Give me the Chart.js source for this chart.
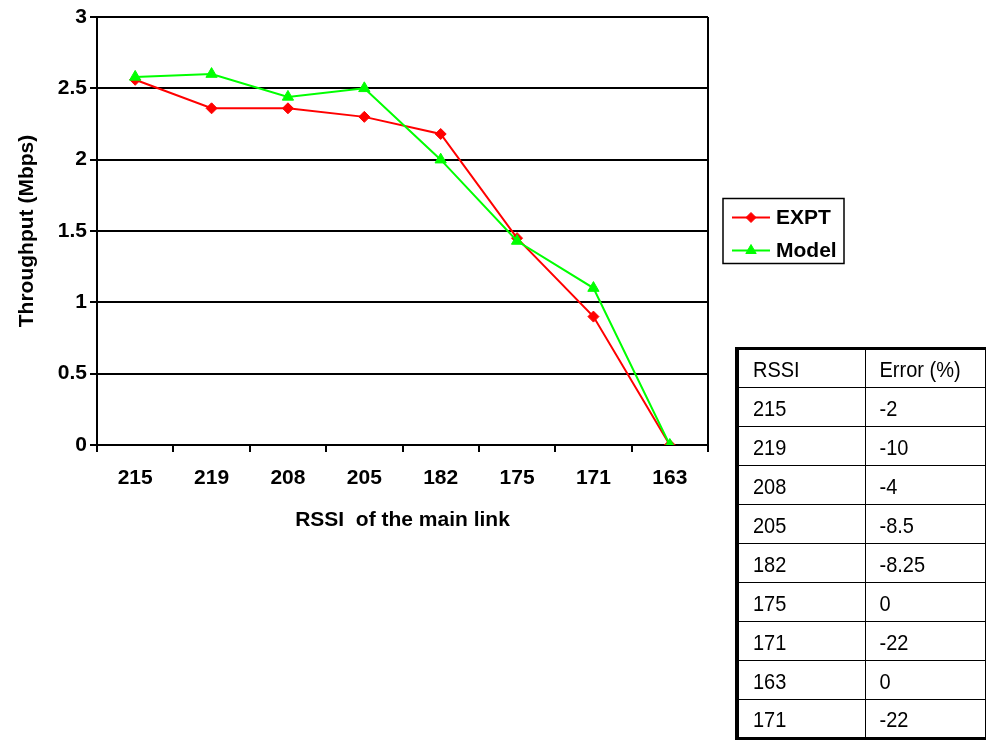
<!DOCTYPE html>
<html>
<head>
<meta charset="utf-8">
<script src="https://cdn.jsdelivr.net/npm/chart.js@4.4.1/dist/chart.umd.min.js"></script>
<style>
  html, body { margin: 0; padding: 0; background: #fff; }
  #wrap { position: relative; width: 987px; height: 740px; overflow: hidden; }
  #chart { position: absolute; left: 0; top: 0; }
  #errTable {
    position: absolute; left: 735px; top: 347px; width: 251px;
    border-collapse: collapse; table-layout: fixed;
    font-family: 'Liberation Sans', Arial, sans-serif; font-size: 20px; color: #000;
    border-left: 4px solid #000; border-top: 3px solid #000; border-bottom: 3px solid #000;
  }
  #errTable tr { height: 39px; }
  #errTable td { box-sizing: border-box; border: 1px solid #000; padding: 4px 0 0 14px; vertical-align: middle; white-space: nowrap; }
  #errTable td span { display: inline-block; transform: scaleY(1.08); transform-origin: 50% 60%; }
  #errTable col.c1 { width: 128px; }
</style>
</head>
<body>
<div id="wrap">
  <canvas id="chart" width="987" height="740"></canvas>
  <table id="errTable"><colgroup><col class="c1"><col></colgroup></table>
</div>
<script>
// RSSI of the main link (x categories)
const rssiLabels = ['215', '219', '208', '205', '182', '175', '171', '163'];
// Measured throughput (Mbps)
const exptValues = [2.56, 2.36, 2.36, 2.30, 2.18, 1.45, 0.90, 0];
// Model throughput (Mbps)
const modelValues = [2.58, 2.60, 2.44, 2.50, 2.00, 1.43, 1.10, 0];
// y-axis tick range
const yMin = 0, yMax = 3, yStep = 0.5;
// Error table
const tableHeader = ['RSSI', 'Error (%)'];
const tableRssi = ['215', '219', '208', '205', '182', '175', '171', '163', '171'];
const tableError = ['-2', '-10', '-4', '-8.5', '-8.25', '0', '-22', '0', '-22'];

// Build the error table
const tbl = document.getElementById('errTable');
function addRow(a, b) {
  const tr = document.createElement('tr');
  [a, b].forEach(t => {
    const td = document.createElement('td');
    const sp = document.createElement('span');
    sp.textContent = t;
    td.appendChild(sp);
    tr.appendChild(td);
  });
  tbl.appendChild(tr);
}
addRow(tableHeader[0], tableHeader[1]);
tableRssi.forEach((r, i) => addRow(r, tableError[i]));

const FONT = "'Liberation Sans', Arial, sans-serif";
Chart.defaults.font.family = FONT;
Chart.defaults.color = '#000';

// Right edge of the plot frame
const frameRight = {
  id: 'frameRight',
  beforeDatasetsDraw(chart) {
    const { ctx, chartArea } = chart;
    ctx.save();
    ctx.strokeStyle = '#000';
    ctx.lineWidth = 2;
    ctx.beginPath();
    ctx.moveTo(chartArea.right, chartArea.top);
    ctx.lineTo(chartArea.right, chartArea.bottom);
    ctx.stroke();
    ctx.restore();
  }
};

// Boxed legend beside the plot, vertically centred on it
const boxedLegend = {
  id: 'boxedLegend',
  afterDraw(chart) {
    const { ctx, chartArea } = chart;
    const w = 121, h = 65;
    const left = chartArea.right + 15;
    const top = (chartArea.top + chartArea.bottom) / 2 - h / 2;
    ctx.save();
    ctx.strokeStyle = '#000';
    ctx.lineWidth = 1.5;
    ctx.strokeRect(left, top, w, h);
    chart.data.datasets.forEach((ds, i) => {
      const y = top + 19 + i * 33;
      ctx.strokeStyle = ds.borderColor;
      ctx.fillStyle = ds.backgroundColor;
      ctx.lineWidth = 2;
      ctx.beginPath();
      ctx.moveTo(left + 9, y);
      ctx.lineTo(left + 47, y);
      ctx.stroke();
      ctx.lineWidth = 1;
      Chart.helpers.drawPoint(ctx, { pointStyle: ds.pointStyle, radius: ds.legendRadius, borderWidth: 1, rotation: 0 }, left + 28, y);
      ctx.fillStyle = '#000';
      ctx.font = 'bold 21px ' + FONT;
      ctx.textBaseline = 'middle';
      ctx.textAlign = 'left';
      ctx.fillText(ds.label, left + 53, y + 1);
    });
    ctx.restore();
  }
};

new Chart(document.getElementById('chart'), {
  type: 'line',
  data: {
    labels: rssiLabels,
    datasets: [
      {
        label: 'EXPT',
        data: exptValues,
        borderColor: '#ff0000',
        backgroundColor: '#ff0000',
        borderWidth: 2,
        pointStyle: 'rectRot',
        pointRadius: 5.5,
        legendRadius: 5,
        pointBorderWidth: 1,
        tension: 0,
        order: 1
      },
      {
        label: 'Model',
        data: modelValues,
        borderColor: '#00ff00',
        backgroundColor: '#00ff00',
        borderWidth: 2,
        pointStyle: 'triangle',
        pointRadius: 6.5,
        legendRadius: 6,
        pointBorderWidth: 1,
        tension: 0,
        order: 0
      }
    ]
  },
  options: {
    responsive: false,
    animation: false,
    layout: { padding: { left: 0, top: 17, right: 279, bottom: 200 } },
    plugins: {
      legend: { display: false },
      tooltip: { enabled: false }
    },
    scales: {
      x: {
        offset: true,
        afterFit(scale) { scale.height = 95; },
        grid: { drawOnChartArea: false, drawTicks: true, tickLength: 7, color: '#000', lineWidth: 2, offset: true },
        border: { display: true, color: '#000', width: 2 },
        ticks: { font: { size: 21, weight: 'bold' }, padding: 14, color: '#000', maxRotation: 0 },
        title: { display: true, text: 'RSSI  of the main link', font: { size: 21, weight: 'bold' }, padding: { top: 0, bottom: 7 }, color: '#000' }
      },
      y: {
        min: yMin,
        max: yMax,
        afterFit(scale) { scale.width = 97; },
        grid: { color: '#000', lineWidth: 2, drawTicks: true, tickLength: 7 },
        border: { display: true, color: '#000', width: 2 },
        ticks: { stepSize: yStep, font: { size: 21, weight: 'bold' }, padding: 3, color: '#000', callback: v => String(v) },
        title: { display: true, text: 'Throughput (Mbps)', font: { size: 21, weight: 'bold' }, padding: { top: 15, bottom: 0 }, color: '#000' }
      }
    }
  },
  plugins: [frameRight, boxedLegend]
});
</script>
</body>
</html>
